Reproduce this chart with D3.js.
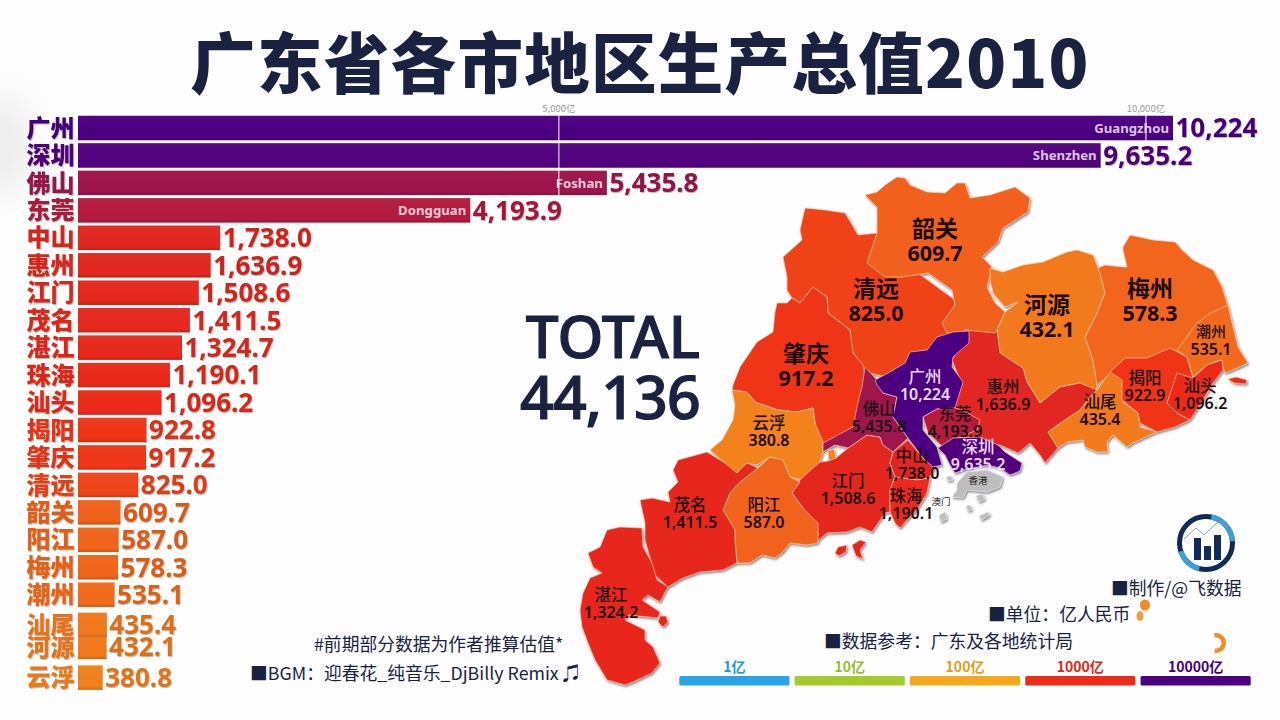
<!DOCTYPE html>
<html lang="zh">
<head>
<meta charset="utf-8">
<script src="https://cdn.jsdelivr.net/npm/d3@7/dist/d3.min.js"></script>
<style>
html,body{margin:0;padding:0;background:#fdfdfd;}
svg{display:block;}
text{font-family:"Noto Sans CJK SC","Noto Sans",sans-serif;}
.num{font-family:"Noto Sans","Noto Sans CJK SC",sans-serif;}
</style>
</head>
<body>
<svg id="chart" width="1280" height="720"></svg>
<script>
// ---------- data ----------
const titleText = "广东省各市地区生产总值2010";
const totalLabel = "TOTAL";
const totalValue = "44,136";
const cities   = ["广州","深圳","佛山","东莞","中山","惠州","江门","茂名","湛江","珠海","汕头","揭阳","肇庆","清远","韶关","阳江","梅州","潮州","汕尾","河源","云浮"];
const values   = [10224,9635.2,5435.8,4193.9,1738.0,1636.9,1508.6,1411.5,1324.7,1190.1,1096.2,922.8,917.2,825.0,609.7,587.0,578.3,535.1,435.4,432.1,380.8];
// the frame is mid-transition: 汕尾 / 河源 are swapping rows, so the display rank is fractional
const displayRank = [0,1,2,3,4,5,6,7,8,9,10,11,12,13,14,15,16,17,18.1,18.9,20.02];
const englishNames = {"广州":"Guangzhou","深圳":"Shenzhen","佛山":"Foshan","东莞":"Dongguan"};
const axisTicks = [5000,10000];
const legendLabels = ["1亿","10亿","100亿","1000亿","10000亿"];
const legendValues = [1,10,100,1000,10000];
const legendColors = ["#2aa3e8","#a2cc2e","#f5a81c","#ee2a18","#4b0082"];
const notes = ["#前期部分数据为作者推算估值*","■BGM：迎春花_纯音乐_DjBilly Remix ♫","■制作/@飞数据","■单位：亿人民币","■数据参考：广东及各地统计局"];

// labels printed on the map (as printed in the frame)
const mapLabelNames  = ["韶关","清远","河源","梅州","肇庆","广州","佛山","东莞","深圳","惠州","汕尾","揭阳","汕头","潮州","云浮","中山","江门","珠海","茂名","阳江","湛江"];
const mapLabelValues = ["609.7","825.0","432.1","578.3","917.2","10,224","5,435.8","4,193.9","9,635.2","1,636.9","435.4","922.9","1,096.2","535.1","380.8","1,738.0","1,508.6","1,190.1","1,411.5","587.0","1,324.2"];

// Region outlines on a local survey grid, painted back to front
const regionOutlines = {
 "清远":[[[805,208],[825,210],[845,213],[858,235],[877,233],[900,260],[955,300],[950,340],[900,380],[865,372],[850,347],[850,330],[828,313],[827,297],[813,287],[800,303],[792,298],[787,290],[787,277],[783,257],[802,240],[800,230]]],
 "韶关":[[[865,195],[877,192],[885,185],[897,177],[905,178],[910,185],[927,192],[945,193],[957,183],[965,183],[970,198],[990,195],[1015,187],[1030,198],[1028,212],[1003,228],[998,242],[982,257],[992,267],[987,287],[995,303],[1005,312],[997,330],[995,340],[970,340],[947,333],[942,323],[955,305],[952,290],[928,273],[902,277],[885,277],[867,263],[877,233],[877,207]]],
 "肇庆":[[[777,303],[787,303],[792,298],[800,303],[813,287],[827,297],[828,313],[850,330],[853,353],[863,365],[870,400],[860,435],[823,450],[815,423],[813,408],[797,412],[778,410],[755,402],[747,392],[732,390],[733,385],[740,367],[757,342],[773,332],[775,312]]],
 "云浮":[[[732,390],[747,392],[755,402],[778,410],[797,412],[813,408],[815,423],[823,442],[823,452],[820,462],[802,480],[790,477],[783,460],[770,457],[757,465],[747,463],[737,473],[725,463],[710,450],[722,440],[733,420],[735,405]],
        [[828,451],[834,449],[836,458],[829,461]]],
 "河源":[[[990,268],[1003,272],[1023,265],[1043,262],[1067,252],[1077,250],[1093,255],[1100,273],[1105,293],[1095,318],[1085,337],[1093,360],[1097,383],[1097,392],[1080,383],[1060,387],[1040,403],[1027,382],[1023,368],[1000,353],[997,330],[1005,312],[1018,302],[1005,307],[993,293],[990,280]]],
 "梅州":[[[1098,268],[1105,265],[1123,267],[1127,267],[1123,250],[1123,247],[1130,235],[1153,240],[1175,242],[1182,250],[1193,260],[1213,270],[1222,287],[1228,307],[1222,320],[1190,357],[1170,370],[1113,372],[1097,385],[1093,360],[1085,337],[1095,318],[1105,293],[1100,273]]],
 "惠州":[[[965,330],[995,333],[997,330],[1000,353],[1023,368],[1027,382],[1040,403],[1060,387],[1080,383],[1097,390],[1090,397],[1080,410],[1065,420],[1048,432],[1058,448],[1045,463],[1040,455],[1030,443],[1022,450],[1018,453],[1000,445],[975,445],[940,420],[960,380],[952,360]]],
 "汕尾":[[[1097,390],[1110,372],[1122,378],[1123,402],[1138,413],[1140,427],[1157,432],[1150,435],[1133,443],[1127,447],[1113,435],[1107,442],[1108,452],[1097,452],[1085,447],[1083,440],[1067,442],[1058,448],[1048,432],[1065,420],[1080,410],[1090,397]]],
 "揭阳":[[[1110,372],[1125,358],[1147,358],[1170,348],[1187,357],[1193,378],[1177,380],[1167,403],[1177,413],[1190,420],[1175,427],[1157,432],[1140,423],[1138,413],[1122,400],[1122,380]]],
 "潮州":[[[1177,350],[1187,337],[1195,325],[1210,313],[1228,305],[1232,323],[1238,347],[1248,363],[1233,370],[1225,373],[1220,360],[1207,365],[1193,377],[1187,357]]],
 "汕头":[[[1177,373],[1193,378],[1207,365],[1222,360],[1223,370],[1213,383],[1203,400],[1190,420],[1177,413],[1167,403]],
        [[1228,379],[1236,377],[1247,380],[1246,384],[1234,383]]],
 "江门":[[[792,493],[800,480],[813,468],[820,462],[828,461],[836,458],[848,448],[867,435],[880,437],[883,445],[893,452],[890,463],[895,477],[890,490],[890,512],[885,513],[878,523],[872,532],[860,527],[847,532],[827,533],[815,543],[818,535],[817,523],[803,508]],
        [[835,553],[838,547],[847,545],[846,552],[839,556]],[[852,545],[860,540],[866,542],[860,550],[863,559],[856,556]]],
 "阳江":[[[770,457],[783,460],[790,477],[800,482],[792,493],[803,508],[818,523],[818,543],[807,545],[790,543],[783,552],[775,558],[762,555],[750,563],[737,563],[735,540],[735,530],[723,510],[730,493],[740,482],[758,468]]],
 "茂名":[[[678,460],[707,452],[725,463],[737,473],[747,463],[758,468],[740,482],[730,493],[723,510],[735,530],[735,540],[737,563],[723,570],[700,572],[683,578],[668,587],[655,575],[645,540],[645,523],[640,500],[652,498],[670,502],[668,492],[678,482],[673,470]]],
 "湛江":[[[607,530],[620,527],[642,528],[643,547],[652,563],[657,580],[668,587],[665,592],[660,602],[648,595],[642,600],[660,612],[658,618],[628,615],[625,620],[645,630],[645,640],[653,647],[660,663],[652,673],[633,682],[625,685],[607,680],[595,660],[588,643],[582,627],[580,610],[583,593],[590,578],[602,573],[593,567],[588,553],[600,547]],
        [[660,616],[666,616],[668,622],[663,627],[658,622]]],
 "佛山":[[[865,367],[877,380],[883,393],[897,397],[893,417],[908,438],[893,452],[883,445],[880,437],[867,435],[848,448],[835,445],[823,452],[823,443],[853,427],[858,402],[862,387]]],
 "中山":[[[893,452],[908,440],[923,458],[935,467],[930,477],[917,480],[895,477],[890,463]]],
 "珠海":[[[895,477],[917,480],[930,478],[927,493],[917,510],[907,520],[900,528],[895,523],[890,512],[890,490]]],
 "广州":[[[875,380],[890,372],[905,363],[910,352],[927,350],[937,337],[953,332],[969,331],[969,343],[953,357],[952,367],[963,382],[955,408],[937,409],[923,417],[923,430],[937,447],[942,465],[933,467],[923,458],[908,438],[893,417],[897,397],[883,393],[877,385]]],
 "东莞":[[[923,417],[937,409],[955,408],[962,410],[980,420],[977,430],[960,437],[943,447],[928,433]]],
 "深圳":[[[938,448],[953,438],[980,437],[998,445],[1005,452],[1022,463],[1020,471],[1010,475],[1000,468],[987,465],[963,470],[955,473],[950,465],[945,455]]]
};
const greyAreas = [
 [[[957,483],[967,472],[987,470],[1003,477],[1000,487],[987,492],[967,490],[963,498],[952,497],[957,490]]],
 [[[976,496],[982,494],[985,499],[979,502]]],
 [[[946,477],[951,476],[953,480],[948,481]]],
 [[[939,515],[945,512],[947,519],[941,522]]],
 [[[979,516],[988,512],[990,515],[982,520]]],
 [[[966,506],[970,505],[972,510],[968,511]]]
];

// ---------- layout ----------
const svg = d3.select("#chart");
const defs = svg.append("defs");

const sheen = defs.append("linearGradient").attr("id","sheen").attr("x1",0).attr("x2",0).attr("y1",0).attr("y2",1);
sheen.append("stop").attr("offset",0).attr("stop-color","#fff").attr("stop-opacity",0.03);
sheen.append("stop").attr("offset",0.85).attr("stop-color","#000").attr("stop-opacity",0);
sheen.append("stop").attr("offset",1).attr("stop-color","#000").attr("stop-opacity",0.16);

const blur = defs.append("filter").attr("id","soft").attr("x","-100%").attr("y","-50%").attr("width","300%").attr("height","200%");
blur.append("feGaussianBlur").attr("stdDeviation",16);

const shadow = defs.append("filter").attr("id","txt").attr("x","-5%").attr("y","-10%").attr("width","110%").attr("height","125%");
shadow.append("feDropShadow").attr("dx",0.7).attr("dy",0.9).attr("stdDeviation",0.5).attr("flood-color","#000").attr("flood-opacity",0.3);

const mapShadow = defs.append("filter").attr("id","mapShadow").attr("x","-5%").attr("y","-5%").attr("width","110%").attr("height","110%");
mapShadow.append("feDropShadow").attr("dx",1).attr("dy",1.5).attr("stdDeviation",0.8).attr("flood-color","#444").attr("flood-opacity",0.7);

const ink = "#1a2242";
const color = d3.scaleLinear().domain(legendValues).range(legendColors).clamp(true);
const x = d3.scalePow().exponent(1.152).domain([0,10224]).range([78,1173]);
const y = d3.scaleLinear().domain([0,17]).range([128,594.7]);
const barH = 24.5;

// background smudge from the video frame
svg.append("rect").attr("width",1280).attr("height",720).attr("fill","#fdfdfd");
svg.append("ellipse").attr("cx",6).attr("cy",145).attr("rx",22).attr("ry",50).attr("fill","#cfcfcf").attr("opacity",.4).attr("filter","url(#soft)");

// title
svg.append("text").attr("x",640).attr("y",88).attr("text-anchor","middle")
  .attr("font-size",65.5).attr("font-weight",900).attr("letter-spacing",1.3).attr("fill",ink).text(titleText);

// bars
const rows = cities.map((c,i)=>({city:c,value:values[i],rank:displayRank[i]}));
const barG = svg.append("g");
barG.selectAll("rect.bar").data(rows).join("rect").attr("class","bar")
  .attr("x",x(0)).attr("y",d=>y(d.rank)-barH/2)
  .attr("width",d=>x(d.value)-x(0)).attr("height",barH).attr("fill",d=>color(d.value));
barG.selectAll("rect.sheen").data(rows).join("rect").attr("class","sheen")
  .attr("x",x(0)).attr("y",d=>y(d.rank)-barH/2)
  .attr("width",d=>x(d.value)-x(0)).attr("height",barH).attr("fill","url(#sheen)");

// english names inside bars
barG.selectAll("text.en").data(rows.filter(d=>englishNames[d.city])).join("text").attr("class","en num")
  .attr("x",d=>x(d.value)-4).attr("y",d=>y(d.rank)).attr("dy",".35em").attr("text-anchor","end")
  .attr("font-size",13.2).attr("font-weight",700).attr("fill","#fff").attr("fill-opacity",.78)
  .text(d=>englishNames[d.city]);

// top axis with gridlines
const axisG = svg.append("g").attr("transform","translate(0,114)")
  .call(d3.axisTop(x).tickValues(axisTicks).tickSize(-82).tickFormat(d=>d3.format(",")(d)+"亿"));
axisG.select(".domain").remove();
axisG.selectAll("line").attr("stroke","#fff").attr("stroke-opacity",.72).attr("stroke-width",1.4);
axisG.selectAll("text").attr("fill","#9a9a9a").attr("font-size",9.5).attr("dy",0).attr("y",-2);

// category names and value labels
const labelG = svg.append("g").attr("filter","url(#txt)");
labelG.selectAll("text.cat").data(rows).join("text").attr("class","cat")
  .attr("x",74.5).attr("y",d=>y(d.rank)).attr("dy",".36em").attr("text-anchor","end")
  .attr("font-size",24).attr("font-weight",900).attr("fill",d=>d3.color(color(d.value)).darker(.15)).text(d=>d.city);
labelG.selectAll("text.val").data(rows).join("text").attr("class","val num")
  .attr("x",d=>x(d.value)+2.5).attr("y",d=>y(d.rank)).attr("dy",".36em")
  .attr("font-size",26).attr("font-weight",700).attr("fill",d=>d3.color(color(d.value)).darker(.25))
  .text(d=>d.value===10224?"10,224":d3.format(",.1f")(d.value));

// map
const projection = d3.geoIdentity();
const geoPath = d3.geoPath(projection);
const valueOf = new Map(rows.map(d=>[d.city,d.value]));
const regions = Object.keys(regionOutlines).map(name=>({
  type:"Feature",properties:{name},geometry:{type:"MultiPolygon",coordinates:regionOutlines[name].map(r=>[r.concat([r[0]])])}
}));
const mapG = svg.append("g").attr("filter","url(#mapShadow)");
mapG.selectAll("path.grey").data(greyAreas).join("path").attr("class","grey")
  .attr("d",g=>geoPath({type:"MultiPolygon",coordinates:g.map(r=>[r.concat([r[0]])])}))
  .attr("fill","#bdbdbd").attr("stroke","#eee").attr("stroke-width",.6);
mapG.selectAll("path.region").data(regions).join("path").attr("class","region")
  .attr("d",geoPath).attr("fill",d=>color(valueOf.get(d.properties.name)))
  .attr("stroke","#ffd8bd").attr("stroke-opacity",.8).attr("stroke-width",.8).attr("stroke-linejoin","round");

// map labels
const mapLabelAt = {
 "韶关":[935,229,23],"清远":[876,289,23],"河源":[1047,305,23],"梅州":[1150,289,23],"肇庆":[806,354,23],
 "广州":[925,377,16.5],"佛山":[879,409,16.5],"东莞":[955,414,16.5],"深圳":[978,447,16.5],"惠州":[1003,387,16.5],
 "汕尾":[1100,402,16.5],"揭阳":[1145,378,16.5],"汕头":[1200,386,16.5],"潮州":[1211,332,15],"云浮":[769,423,16.5],
 "中山":[912,456,16.5],"江门":[848,481,16.5],"珠海":[906,496,16.5],"茂名":[690,505,16.5],"阳江":[764,505,16.5],"湛江":[611,595,16.5]
};
const lightLabels = new Set(["广州","深圳"]);
const mapText = mapLabelNames.map((n,i)=>({n,v:mapLabelValues[i],at:mapLabelAt[n]}));
const mapTextG = svg.append("g");
mapTextG.selectAll("text.mn").data(mapText).join("text").attr("class","mn")
  .attr("x",d=>d.at[0]).attr("y",d=>d.at[1]).attr("dy",".36em").attr("text-anchor","middle")
  .attr("font-size",d=>d.at[2]).attr("font-weight",d=>d.at[2]>20?700:500)
  .attr("fill",d=>lightLabels.has(d.n)?"#e8dcf6":"#1c0d14").text(d=>d.n);
mapTextG.selectAll("text.mv").data(mapText).join("text").attr("class","mv num")
  .attr("x",d=>d.at[0]).attr("y",d=>d.at[1]+(d.at[2]>20?24:17)).attr("dy",".36em").attr("text-anchor","middle")
  .attr("font-size",d=>d.at[2]>20?21.5:16).attr("font-weight",d=>d.at[2]>20?700:600)
  .attr("fill",d=>lightLabels.has(d.n)?"#e8dcf6":"#1c0d14").text(d=>d.v);
mapTextG.append("text").attr("x",978).attr("y",484).attr("text-anchor","middle").attr("font-size",9.5).attr("fill","#222").text("香港");
mapTextG.append("text").attr("x",941).attr("y",505).attr("text-anchor","middle").attr("font-size",9.5).attr("fill","#222").text("澳门");

// totals
svg.append("text").attr("class","num").attr("x",700).attr("y",358).attr("text-anchor","end")
  .attr("font-size",58.5).attr("font-weight",500).attr("fill",ink).attr("stroke",ink).attr("stroke-width",1.2).text(totalLabel);
svg.append("text").attr("class","num").attr("x",700).attr("y",419).attr("text-anchor","end")
  .attr("font-size",59).attr("font-weight",500).attr("letter-spacing",-.8).attr("fill",ink).attr("stroke",ink).attr("stroke-width",1.2).text(totalValue);

// notes
const noteAt = [[314,651,17.8],[250,680,17.8],[1111,595,17.8],[988,621,17.8],[824,648,17.8]];
svg.append("g").selectAll("text").data(notes).join("text")
  .attr("x",(d,i)=>noteAt[i][0]).attr("y",(d,i)=>noteAt[i][1])
  .attr("font-size",(d,i)=>noteAt[i][2]).attr("fill",ink).text(d=>d);

// legend
const legendX = d3.scaleBand().domain(legendLabels).range([677,1253]).paddingInner(.045).paddingOuter(.02);
const leg = svg.append("g").selectAll("g").data(legendLabels).join("g");
leg.append("rect").attr("x",d=>legendX(d)).attr("y",676).attr("width",legendX.bandwidth()).attr("height",9.5).attr("rx",1.5)
  .attr("fill",(d,i)=>legendColors[i]);
leg.append("text").attr("x",d=>legendX(d)+legendX.bandwidth()/2).attr("y",672).attr("text-anchor","middle")
  .attr("font-size",14).attr("font-weight",700).attr("fill",(d,i)=>d3.color(legendColors[i]).darker(.2)).text(d=>d);

// logo
const logo = svg.append("g").attr("transform","translate(1206,543)");
logo.append("circle").attr("r",26.5).attr("fill","#fff").attr("stroke","#0f2a55").attr("stroke-width",5);
logo.append("path").attr("d",d3.arc()({innerRadius:24,outerRadius:29,startAngle:.2,endAngle:1.5})).attr("fill","#3aa0dc");
logo.append("path").attr("d",d3.arc()({innerRadius:24,outerRadius:29,startAngle:3.4,endAngle:4.4})).attr("fill","#3aa0dc");
logo.append("polyline").attr("points","-22,-4 -10,-15 -2,-8 12,-21 22,-17").attr("fill","none").attr("stroke","#8a97a8").attr("stroke-width",1);
const logoBars = [[-12,-5,7,22],[-2,3,7,14],[8,-8,7,25]];
logo.selectAll("rect").data(logoBars).join("rect").attr("x",d=>d[0]).attr("y",d=>d[1]).attr("width",d=>d[2]).attr("height",d=>d[3]).attr("fill","#122a5c");

// loading-spinner fragments caught in the frame
const arc = d3.arc();
svg.append("path").attr("transform","translate(1216,643)")
  .attr("d",arc({innerRadius:5.5,outerRadius:10,startAngle:-.2,endAngle:3.3})).attr("fill","#ef8f2a");
svg.append("ellipse").attr("cx",1145).attr("cy",605).attr("rx",5).attr("ry",5.5).attr("fill","#f08a22");
svg.append("ellipse").attr("cx",1140).attr("cy",616).attr("rx",3.5).attr("ry",5).attr("fill","#ef9a44");
</script>
</body>
</html>
